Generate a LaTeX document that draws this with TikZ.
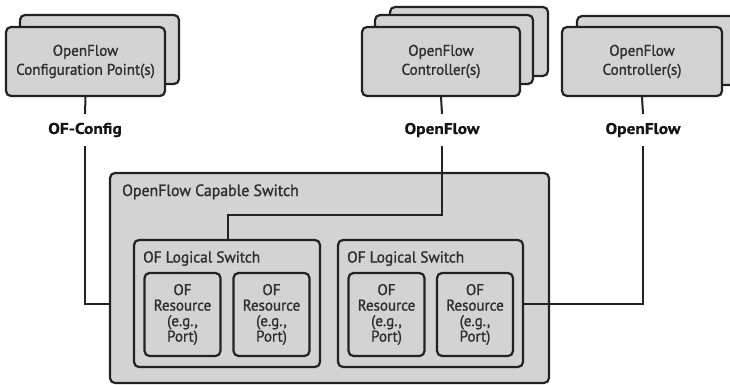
\documentclass[tikz,border=0pt]{standalone}
\usepackage{fontspec}
\setmainfont{PT Sans}
\newfontfamily\boxfont{PT Sans}[FakeStretch=0.97,FakeBold=1.2]
\newfontfamily\lblfont{PT Sans Bold}[FakeStretch=1.12,FakeBold=0.6]
\definecolor{boxfill}{HTML}{D3D3D3}
\definecolor{edge}{HTML}{222222}
\definecolor{txt}{HTML}{2E2E2E}
\begin{document}
\begin{tikzpicture}[x=1pt,y=-1pt,
  box/.style={draw=edge,fill=boxfill,line width=2.2pt,rounded corners=5pt,inner sep=0pt,text=txt,align=center,font=\boxfont\fontsize{15.5}{19}\selectfont},
  res/.style={box,minimum width=76pt,minimum height=83pt,font=\boxfont\fontsize{15.5}{15.5}\selectfont},
  lbl/.style={inner sep=0pt,minimum height=32pt,font=\lblfont\fontsize{15.5}{17}\selectfont,text=black!92},
  conn/.style={draw=edge,line width=2pt},
  tag/.style={anchor=base west,inner sep=0pt,text=txt,font=\boxfont\fontsize{16.3}{18}\selectfont}]
\useasboundingbox (0,0) rectangle (730,385);
\fill[white] (0,0) rectangle (730,385);
% configuration point
\node[box,minimum width=159pt,minimum height=69pt] (cfgb) at (99.5,49.5) {};
\node[box,minimum width=159pt,minimum height=69pt] (cfg) at (85.5,61.5) {OpenFlow\\Configuration Point(s)};
% controllers 1
\node[box,minimum width=158pt,minimum height=69pt] (ctab) at (469,41.5) {};
\node[box,minimum width=158pt,minimum height=69pt] (ctaa) at (454,49.5) {};
\node[box,minimum width=158pt,minimum height=69pt] (cta) at (441,61.5) {OpenFlow\\Controller(s)};
% controllers 2
\node[box,minimum width=160pt,minimum height=69pt] (ctbb) at (657,50.5) {};
\node[box,minimum width=160pt,minimum height=69pt] (ctb) at (642,61.5) {OpenFlow\\Controller(s)};
% labels
\node[lbl] (lcfg) at (85,130) {OF-Config};
\node[lbl] (lcta) at (442,130) {OpenFlow};
\node[lbl] (lctb) at (643,130) {OpenFlow};
% switch
\node[box,minimum width=439pt,minimum height=210pt] (sw) at (329.5,278) {};
\node[tag] (swt) at (122,196) {OpenFlow Capable Switch};
\node[box,minimum width=186pt,minimum height=127pt] (ls1) at (227,303.5) {};
\node[tag,font=\boxfont\fontsize{15.8}{18}\selectfont] (ls1t) at (143,262.5) {OF Logical Switch};
\node[box,minimum width=185pt,minimum height=127pt] (ls2) at (430.5,303.5) {};
\node[tag,font=\boxfont\fontsize{15.8}{18}\selectfont] (ls2t) at (347,262.5) {OF Logical Switch};
\node[res] (r1) at (182.5,314.5) {OF\\Resource\\(e.g.,\\Port)};
\node[res] (r2) at (271.5,314.5) {OF\\Resource\\(e.g.,\\Port)};
\node[res] (r3) at (386.5,314.5) {OF\\Resource\\(e.g.,\\Port)};
\node[res] (r4) at (475,314.5) {OF\\Resource\\(e.g.,\\Port)};
% connectors
\draw[conn] (cfg.south) -- (lcfg.north);
\draw[conn] (lcfg.south) |- (sw.west |- ls1.center);
\draw[conn] (cta.south) -- (lcta.north);
\coordinate (k) at (228,215);
\draw[conn] (lcta.south) |- (k) -- (k |- ls1.north);
\draw[conn] (ctb.south) -- (lctb.north);
\draw[conn] (lctb.south) |- (ls2.east);
\end{tikzpicture}
\end{document}
